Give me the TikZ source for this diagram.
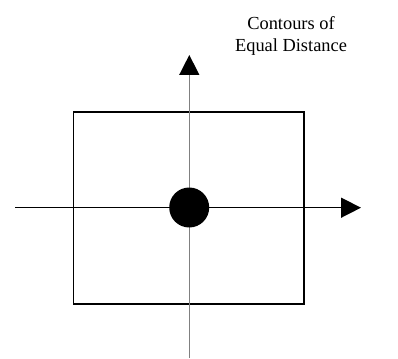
\documentclass[tikz,border=0pt]{standalone}
\usepackage{fontspec}
\setmainfont{Liberation Serif}
\usetikzlibrary{arrows.meta}
\tikzset{
  axis/.style={line width=1.5pt},
  tip/.style={-{Triangle[length=20pt,width=20pt,color=black]}},
  contour/.style={draw=black,line width=1.6pt},
  label/.style={align=center,font=\fontsize{18.4}{22.5}\selectfont,inner sep=0pt}
}
\begin{document}
\begin{tikzpicture}[x=1pt,y=-1pt]
\useasboundingbox (0,0) rectangle (398,358);
\draw[contour] (73.3,112.3) rectangle (304,304);
\coordinate (hL) at (15,207.7);
\coordinate (hR) at (361,207.7);
\coordinate (vB) at (189.3,358);
\coordinate (vT) at (189.3,55);
\draw[axis,black,tip] (hL) -- (hR);
\draw[axis,gray,tip] (vB) -- (vT);
\node[circle,fill=black,minimum size=40pt,inner sep=0pt] (o) at (189.2,207.5) {};
\node[label,anchor=base] (t) at (291,52) {Contours of\\Equal Distance};
\end{tikzpicture}
\end{document}
